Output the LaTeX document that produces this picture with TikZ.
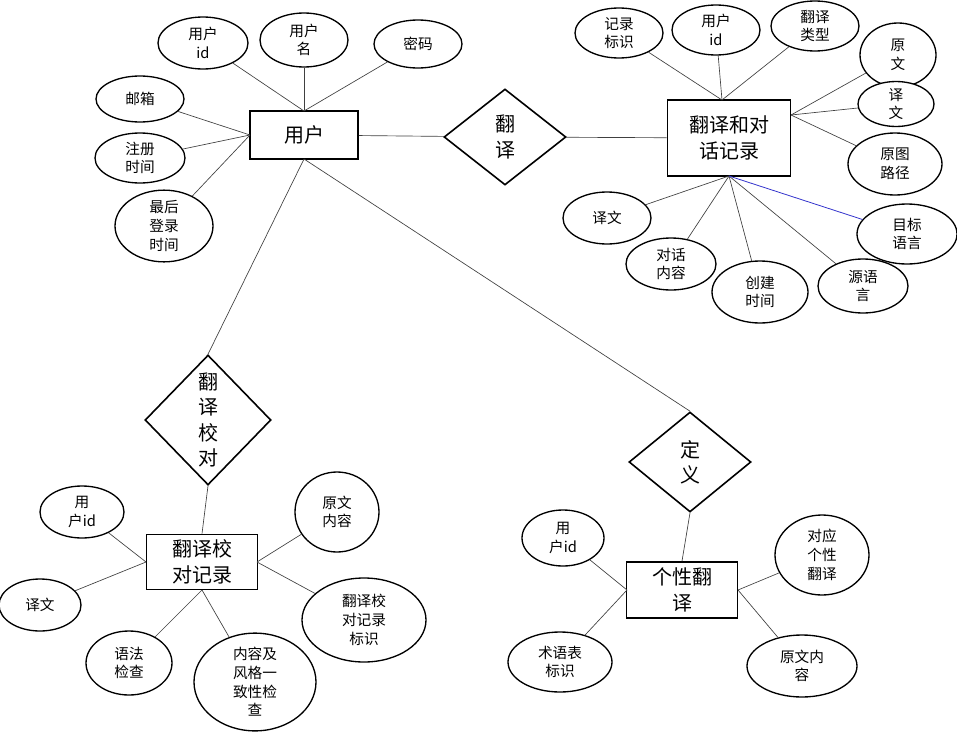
\documentclass[tikz,border=0pt]{standalone}
\usepackage{fontspec}
\setmainfont{Noto Sans CJK SC}
\usetikzlibrary{shapes.geometric}
\tikzset{
entity/.style = {draw, line width=1.2pt, fill=white, inner sep=1pt, align=center, font=\fontsize{15}{19}\selectfont},
rel/.style = {draw, diamond, line width=1.2pt, fill=white, inner sep=0pt, align=center, font=\fontsize{15}{19}\selectfont},
attr/.style = {draw, ellipse, line width=1pt, fill=white, inner sep=0pt, align=center, font=\fontsize{11}{14}\selectfont},
link/.style = {line width=0.5pt, color=black!75},
bluelink/.style = {line width=0.6pt, color=blue!60!gray}}
% attribute: name, x, y, rx, ry, text
\newcommand\attrnode[6]{\node[attr, minimum width=#4*1.5pt, minimum height=#5*1.5pt] (#1) at (#2,#3) {#6};}

\begin{document}
\begin{tikzpicture}[x=0.75pt, y=-0.75pt]
\useasboundingbox (0,0) rectangle (957,732);
%
% entities and relations
\node[entity, minimum width=108*0.75pt, minimum height=48*0.75pt] (user) at (304,135) {用户};
\node[entity, minimum width=123*0.75pt, minimum height=76*0.75pt] (record) at (729,138) {翻译和对\\话记录};
\node[entity, minimum width=111*0.75pt, minimum height=55*0.75pt] (proof) at (202,562) {翻译校\\对记录};
\node[entity, minimum width=111*0.75pt, minimum height=56*0.75pt] (custom) at (682,590) {个性翻\\译};
\node[rel, minimum width=122*0.75pt, minimum height=96*0.75pt] (translate) at (505,137) {翻\\译};
\node[rel, minimum width=126*0.75pt, minimum height=130*0.75pt] (check) at (208,420) {翻\\译\\校\\对};
\node[rel, minimum width=122*0.75pt, minimum height=100*0.75pt] (define) at (690,462) {定\\义};
%
% attributes of user
\attrnode{uid}{203}{43}{45}{26}{用户\\id}
\attrnode{uname}{304}{40}{44}{27}{用户\\名}
\attrnode{upwd}{418}{44}{44}{24}{密码}
\attrnode{umail}{140}{99}{44}{23}{邮箱}
\attrnode{ureg}{140}{158}{45}{25}{注册\\时间}
\attrnode{ulast}{164}{226}{49}{34}{最后\\登录\\时间}
%
% attributes of record
\attrnode{rid}{619}{33}{44}{25}{记录\\标识}
\attrnode{ruid}{716}{30}{44}{25}{用户\\id}
\attrnode{rtype}{815}{26}{44}{25}{翻译\\类型}
\attrnode{rsrc}{898}{55}{38}{32}{原\\文}
\attrnode{rtrans}{896}{104}{38}{22}{译\\文}
\attrnode{rpath}{895}{164}{47}{31}{原图\\路径}
\attrnode{rtarget}{907}{234}{50}{30}{目标\\语言}
\attrnode{rsrclang}{863}{286}{45}{27}{源语\\言}
\attrnode{rtime}{760}{292}{48}{31}{创建\\时间}
\attrnode{rdialog}{671}{264}{45}{26}{对话\\内容}
\attrnode{rtext}{607}{218}{44}{26}{译文}
%
% attributes of proof
\attrnode{puid}{82}{512}{42}{26}{用\\户id}
\attrnode{ptrans}{40}{605}{41}{26}{译文}
\attrnode{pgram}{129}{663}{43}{32}{语法\\检查}
\attrnode{pstyle}{255}{682}{61}{42}{内容及\\风格一\\致性检\\查}
\attrnode{psrc}{337}{512}{42}{40}{原文\\内容}
\attrnode{pid}{364}{620}{62}{42}{翻译校\\对记录\\标识}
%
% attributes of custom
\attrnode{cuid}{563}{538}{41}{28}{用\\户id}
\attrnode{cmatch}{822}{555}{47}{40}{对应\\个性\\翻译}
\attrnode{cterm}{560}{662}{52}{30}{术语表\\标识}
\attrnode{csrc}{802}{666}{55}{31}{原文内\\容}
%
% connectors
\coordinate (utop) at (304,111);
\coordinate (uleft) at (250,135);
\coordinate (ubot) at (304,159);
\coordinate (rtop) at (722,100);
\coordinate (rright) at (791,115);
\coordinate (rbot) at (729,176);
\coordinate (pleft) at (146,562);
\coordinate (pbot) at (202,590);
\coordinate (pright) at (257,562);
\coordinate (cleft) at (627,590);
\coordinate (cright) at (738,590);
%
\foreach \a in {uid,uname,upwd} \draw[link] (\a) -- (utop);
\foreach \a in {umail,ureg,ulast} \draw[link] (\a) -- (uleft);
\draw[link] (user) -- (translate) -- (record);
\draw[link] (ubot) -- (check.north);
\draw[link] (ubot) -- (define.north);
\draw[link] (check.south) -- (proof.north);
\draw[link] (define.south) -- (custom.north);
\foreach \a in {rid,ruid,rtype} \draw[link] (\a) -- (rtop);
\foreach \a in {rsrc,rtrans,rpath} \draw[link] (\a) -- (rright);
\foreach \a in {rtext,rdialog,rtime,rsrclang} \draw[link] (\a) -- (rbot);
\draw[bluelink] (rtarget) -- (rbot);
\foreach \a in {puid,ptrans} \draw[link] (\a) -- (pleft);
\foreach \a in {pgram,pstyle} \draw[link] (\a) -- (pbot);
\foreach \a in {psrc,pid} \draw[link] (\a) -- (pright);
\foreach \a in {cuid,cterm} \draw[link] (\a) -- (cleft);
\foreach \a in {cmatch,csrc} \draw[link] (\a) -- (cright);
\end{tikzpicture}
\end{document}
